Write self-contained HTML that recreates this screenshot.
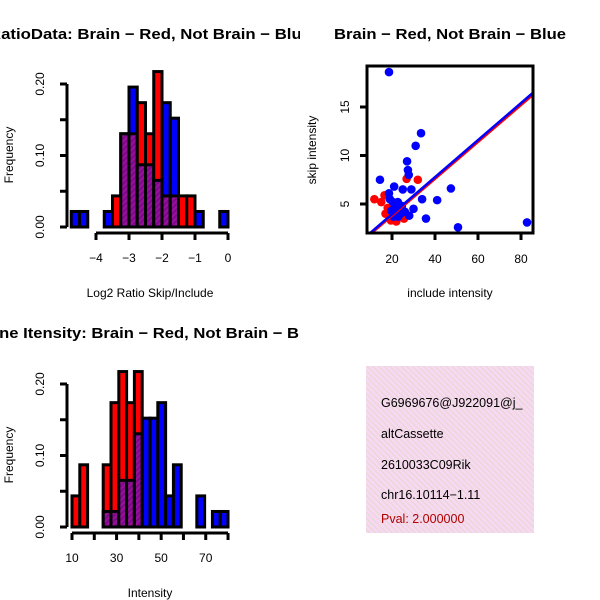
<!DOCTYPE html>
<html><head><meta charset="utf-8"><style>
html,body{margin:0;padding:0;background:#fff}
svg{display:block;font-family:"Liberation Sans",sans-serif}
</style></head><body>
<svg id="s" width="600" height="600" viewBox="0 0 600 600">
<defs>
<pattern id="purp" width="4" height="4" patternUnits="userSpaceOnUse" patternTransform="rotate(45)">
<rect width="4" height="4" fill="#9a109a"/><rect width="2" height="4" fill="#7a0a88"/></pattern>
<pattern id="pink" width="4" height="4" patternUnits="userSpaceOnUse" patternTransform="rotate(-45)">
<rect width="4" height="4" fill="#f8d8f2"/><rect width="1.2" height="4" fill="#e6d8d4"/></pattern>
<clipPath id="leftclip"><rect x="0" y="0" width="300" height="600"/></clipPath>
</defs>
<g clip-path="url(#leftclip)">
<g id="g1"></g>
<g id="g2"></g>
</g>
<g id="g3"></g>
<g>
<rect x="366" y="366" width="168" height="167" fill="url(#pink)"/>
<svg x="366" y="366" width="168" height="167" overflow="hidden">
<text x="15" y="41" font-size="12.5">G6969676@J922091@j_</text>
<text x="15" y="72" font-size="12.5">altCassette</text>
<text x="15" y="103" font-size="12.5">2610033C09Rik</text>
<text x="15" y="133" font-size="12.5">chr16.10114−1.11</text>
<text x="15" y="157" font-size="12.5" fill="#b00000">Pval: 2.000000</text>
</svg>
</g>
</svg>
<script>
// Ratio histogram data (bins start -4.75 step 0.25)
const ratioBinStart=-4.75, ratioBinWidth=0.25;
const ratioRed=[0,0,0,0,0,0.0435,0.1304,0.1304,0.1739,0.1304,0.2174,0.0435,0.0435,0.0435,0.0435,0,0,0,0];
const ratioBlue=[0.0217,0.0217,0,0,0.0217,0,0.1304,0.1957,0.087,0.087,0.0652,0.1739,0.1522,0,0,0.0217,0,0,0.0217];
const ratioXTicks=[-4,-3,-2,-1,0];
const freqTicks=[0,0.1,0.2];
const freqTickLabels=["0.00","0.10","0.20"];
// Intensity histogram data (bins start 10 step 3.5)
const intBinStart=10, intBinWidth=3.5;
const intRed=[0.0435,0.087,0,0,0.087,0.1739,0.2174,0.1739,0.2174,0,0,0,0,0,0,0,0,0,0,0];
const intBlue=[0,0,0,0,0.0217,0.0217,0.0652,0.0652,0.1304,0.1522,0.1522,0.1739,0.0435,0.087,0,0,0.0435,0,0.0217,0.0217];
const intXTicks=[10,20,30,40,50,60,70,80];
const intXLabels=["10","","30","","50","","70",""];
// Scatter data
const blueX=[18.6,33.5,31,27,27.4,27.8,14.4,21,25,18.6,47.4,34,41,50.7,82.8,35.8,20.4,21.4,22.7,23.3,24,20.7,22,24.6,19.7,19,22.9,26,28,30,29];
const blueY=[18.6,12.3,11,9.4,8.5,8.0,7.5,6.8,6.5,6.1,6.6,5.5,5.4,2.6,3.1,3.5,5.2,4.8,5.2,4.5,4.0,3.7,3.9,4.8,4.3,5.5,3.7,4.2,3.8,4.5,6.5];
const redX=[11.8,16.5,26.8,17,19.5,22,25.7,15,25.6,32,20,18];
const redY=[5.5,5.9,7.6,4.0,3.3,3.2,4.0,5.2,3.5,7.5,4.2,4.6];
const scatXTicks=[20,40,60,80];
const scatYTicks=[5,10,15];
const blueFit=[0.13,0.191];
const redFit=[0.0,0.19];

const NS="http://www.w3.org/2000/svg";
function mk(p,t,a){const e=document.createElementNS(NS,t);for(const k in a)e.setAttribute(k,a[k]);p.appendChild(e);return e;}
function txt(p,x,y,s,size,extra){const e=mk(p,'text',Object.assign({x:x,y:y,'font-size':size,'text-anchor':'middle'},extra||{}));e.textContent=s;return e;}

function hist(g,o){
  const X=v=>o.x0+(v-o.xmin)*o.xs, Y=v=>o.y0-v*o.ys;
  for(let i=0;i<o.red.length;i++){
    const a=o.start+i*o.w, b=a+o.w, r=o.red[i], bl=o.blue[i];
    const lo=Math.min(r,bl), hi=Math.max(r,bl);
    if(hi>0){
      const e=mk(g,'rect',{x:X(a),y:Y(hi),width:X(b)-X(a),height:Y(0)-Y(hi),fill:r>bl?'#ff0000':'#0000ff',stroke:'#000','stroke-width':3});
      
      
    }
    if(lo>0){
      const e=mk(g,'rect',{x:X(a),y:Y(lo),width:X(b)-X(a),height:Y(0)-Y(lo),fill:'url(#purp)',stroke:'#000','stroke-width':3});
      
      
    }
  }
  const ya=mk(g,'line',{x1:o.yax,x2:o.yax,y1:Y(0),y2:Y(0.2),stroke:'#000','stroke-width':3});
  
  
  freqTicks.forEach((t,i)=>{
    mk(g,'line',{x1:o.yax,x2:o.yax-7,y1:Y(t),y2:Y(t),stroke:'#000','stroke-width':3});
    const l=txt(g,0,0,freqTickLabels[i],12,{transform:`translate(${o.yax-23},${Y(t)}) rotate(-90)`});
    
    
  });
  const half=[0.05,0.15];half.forEach(t=>mk(g,'line',{x1:o.yax,x2:o.yax-7,y1:Y(t),y2:Y(t),stroke:'#000','stroke-width':3}));
  const xa=mk(g,'line',{x1:X(o.ticks[0]),x2:X(o.ticks[o.ticks.length-1]),y1:o.xay,y2:o.xay,stroke:'#000','stroke-width':3});
  
  
  o.ticks.forEach((t,i)=>{
    mk(g,'line',{x1:X(t),x2:X(t),y1:o.xay,y2:o.xay+7,stroke:'#000','stroke-width':3});
    const l=txt(g,X(t),o.xay+29,o.labels[i],12);
    
    
  });
  const yt=txt(g,0,0,'Frequency',12,{transform:`translate(13,${o.y0-72}) rotate(-90)`});
  
  
  const xt=txt(g,150,o.xay+64,o.xtitle,12);
  
  
  const tt=txt(g,150,o.ty,o.title,15,{'font-weight':'bold',textLength:o.tl,lengthAdjust:'spacingAndGlyphs'});
  
  
}
hist(document.getElementById('g1'),{x0:228,xmin:0,xs:33,y0:227,ys:715,start:ratioBinStart,w:ratioBinWidth,red:ratioRed,blue:ratioBlue,yax:67,xay:233,ticks:ratioXTicks,labels:ratioXTicks.map(t=>t<0?'−'+(-t):''+t),xtitle:'Log2 Ratio Skip/Include',title:'RatioData: Brain − Red, Not Brain − Blue',ty:39,tl:322});
hist(document.getElementById('g2'),{x0:72,xmin:10,xs:2.229,y0:527,ys:715,start:intBinStart,w:intBinWidth,red:intRed,blue:intBlue,yax:67,xay:533,ticks:intXTicks,labels:intXLabels,xtitle:'Intensity',title:'Gene Itensity: Brain − Red, Not Brain − Blue',ty:338,tl:346});

(function(){
  const g=document.getElementById('g3');
  const X=v=>349+v*2.15, Y=v=>252.5-v*9.7;
  const cl=mk(g,'clipPath',{id:'sc'});mk(cl,'rect',{x:367,y:66,width:166,height:167});
  const inner=mk(g,'g',{'clip-path':'url(#sc)'});
  redX.forEach((x,i)=>{const c=mk(inner,'circle',{cx:X(x),cy:Y(redY[i]),r:4.3,fill:'#ff0000'});
    
    });
  blueX.forEach((x,i)=>{const c=mk(inner,'circle',{cx:X(x),cy:Y(blueY[i]),r:4.3,fill:'#0000ff'});
    
    });
  const rl=mk(inner,'line',{x1:X(0),y1:Y(redFit[0]),x2:X(100),y2:Y(redFit[0]+redFit[1]*100),stroke:'#ff0000','stroke-width':2.5});
  
  
  const bl=mk(inner,'line',{x1:X(0),y1:Y(blueFit[0]),x2:X(100),y2:Y(blueFit[0]+blueFit[1]*100),stroke:'#0000ff','stroke-width':2.5});
  
  
  const b=mk(g,'rect',{x:367,y:66,width:166,height:167,fill:'none',stroke:'#000','stroke-width':3});
  
  
  scatXTicks.forEach(t=>{mk(g,'line',{x1:X(t),x2:X(t),y1:233,y2:240,stroke:'#000','stroke-width':3});
    const l=txt(g,X(t),263,''+t,12);
    
    });
  scatYTicks.forEach(t=>{mk(g,'line',{x1:367,x2:360,y1:Y(t),y2:Y(t),stroke:'#000','stroke-width':3});
    const l=txt(g,0,0,''+t,12,{transform:`translate(349,${Y(t)}) rotate(-90)`});
    
    });
  const xt=txt(g,450,297,'include intensity',12);
  
  
  const yt=txt(g,0,0,'skip intensity',12,{transform:'translate(316,150) rotate(-90)'});
  
  
  const tt=txt(g,450,39,'Brain − Red, Not Brain − Blue',15,{'font-weight':'bold',textLength:232,lengthAdjust:'spacingAndGlyphs'});
  
  
})();
</script>
</body></html>
